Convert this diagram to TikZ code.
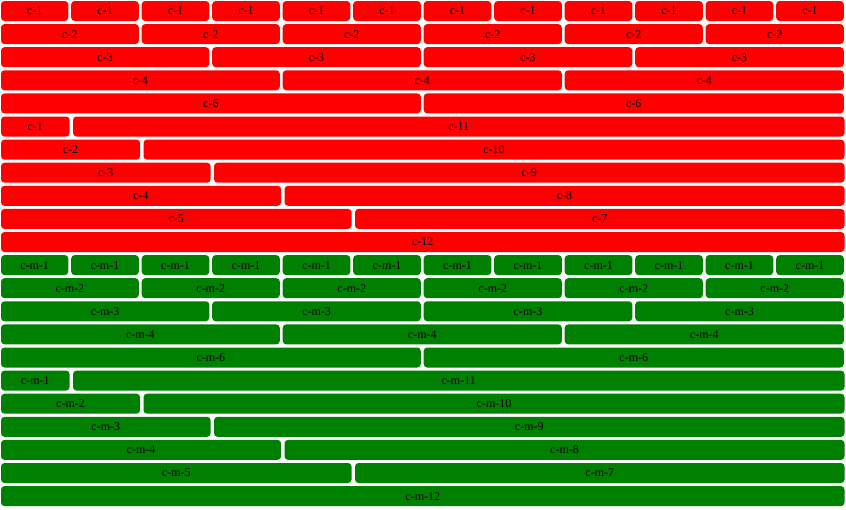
\documentclass[tikz,border=0pt]{standalone}
\usepackage{fontspec}
\setmainfont{Liberation Serif}
\definecolor{bsgreen}{RGB}{0,128,0}
\newcommand\insL{0.7}
\newcommand\insR{2.2}
\newcommand\cellbox[6]{% row, startcol, span, label, color, name
  \pgfmathsetmacro\cxa{(#2)*70.5+\insL}%
  \pgfmathsetmacro\cxa{((#2)==0) ? 1 : \cxa}%
  \pgfmathsetmacro\cxb{(#2+#3)*70.5-\insR}%
  \pgfmathsetmacro\cxb{min(\cxb,844.5)}%
  \pgfmathsetmacro\cya{(#1)*23.1+1}%
  \pgfmathsetmacro\cw{\cxb-\cxa}%
  \pgfmathsetmacro\cx{(\cxa+\cxb)/2}%
  \node[cell, fill=#5, minimum width=\cw pt] (#6) at (\cx,\cya+10) {#4};}
\begin{document}
\begin{tikzpicture}[x=1pt,y=-1pt,
  cell/.style={rounded corners=3.5pt, inner sep=0pt, minimum height=20pt,
    font=\fontsize{12}{14}\selectfont, text=black}]
\useasboundingbox (0,0) rectangle (846,509);
\fill[white] (0,0) rectangle (846,509);
\foreach \g/\col/\pre/\off in {r/red/c/0, g/bsgreen/c-m/11} {
  \renewcommand\insL{0.7}\renewcommand\insR{2.2}
  \foreach \i in {0,...,11} {\cellbox{\off}{\i}{1}{\pre-1}{\col}{\g a\i}}
  \foreach \i in {0,...,5} {\cellbox{\off+1}{2*\i}{2}{\pre-2}{\col}{\g b\i}}
  \foreach \i in {0,...,3} {\cellbox{\off+2}{3*\i}{3}{\pre-3}{\col}{\g c\i}}
  \foreach \i in {0,...,2} {\cellbox{\off+3}{4*\i}{4}{\pre-4}{\col}{\g d\i}}
  \foreach \i in {0,...,1} {\cellbox{\off+4}{6*\i}{6}{\pre-6}{\col}{\g e\i}}
  \renewcommand\insL{2.5}\renewcommand\insR{0.9}
  \foreach \k in {1,...,5} {
    \cellbox{\off+4+\k}{0}{\k}{\pre-\k}{\col}{\g l\k}
    \pgfmathtruncatemacro\kk{12-\k}
    \cellbox{\off+4+\k}{\k}{\kk}{\pre-\kk}{\col}{\g m\k}}
  \cellbox{\off+10}{0}{12}{\pre-12}{\col}{\g z}
}
\end{tikzpicture}
\end{document}
